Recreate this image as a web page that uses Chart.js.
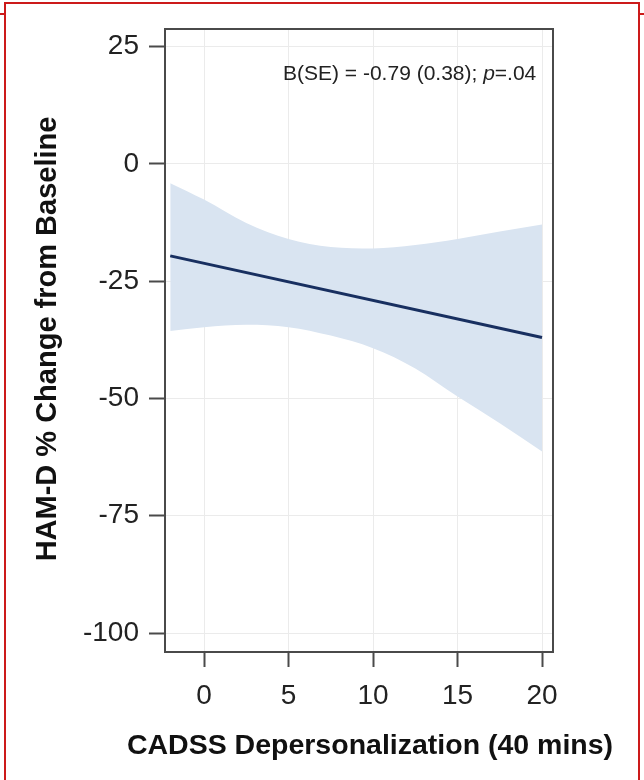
<!DOCTYPE html>
<html>
  <head>
    <title>HAM-D vs CADSS</title>
    <script src="https://cdn.jsdelivr.net/npm/chart.js"></script>
    <style>
      body { margin: 0; background: #ffffff; }
      #box { position: relative; width: 644px; height: 780px; }
    </style>
  </head>

  <body>
    <div id="box">
      <canvas id="grafico"></canvas>
    </div>

    <script>
      // eixos
      var xTicks = [0, 5, 10, 15, 20];
      var yTicks = [25, 0, -25, -50, -75, -100];

      // reta de regressao
      var fitX = [-2, 20];
      var fitY = [-19.6, -37.0];

      // intervalo de confianca
      var bandX = [-2, 0, 2.5, 5, 7.5, 10, 12.5, 15, 17.5, 20];
      var bandUpper = [-4.1, -7.6, -12.6, -16.0, -17.7, -18.0, -17.3, -16.0, -14.4, -12.9];
      var bandLower = [-35.6, -34.8, -34.3, -34.8, -36.6, -39.3, -43.6, -49.6, -55.3, -61.3];

      var xTitle = "CADSS Depersonalization (40 mins)";
      var yTitle = "HAM-D % Change from Baseline";

      var fonte = '"Liberation Sans", Arial, sans-serif';

      function pares(xs, ys) {
        return xs.map((x, i) => ({ x: x, y: ys[i] }));
      }

      var extras = {
        id: "extras",
        afterDraw(chart) {
          var ctx = chart.ctx;
          var a = chart.chartArea;
          ctx.save();

          // moldura do grafico
          ctx.strokeStyle = "#4a4a4a";
          ctx.lineWidth = 2;
          ctx.beginPath();
          ctx.moveTo(a.left, a.top);
          ctx.lineTo(a.right, a.top);
          ctx.lineTo(a.right, a.bottom);
          ctx.stroke();

          // anotacao
          ctx.fillStyle = "#222";
          ctx.textBaseline = "alphabetic";
          ctx.textAlign = "left";
          ctx.font = "21px " + fonte;
          var t1 = "B(SE) = -0.79 (0.38); ";
          var x0 = 283;
          ctx.fillText(t1, x0, 80);
          x0 += ctx.measureText(t1).width;
          ctx.font = "italic 21px " + fonte;
          ctx.fillText("p", x0, 80);
          x0 += ctx.measureText("p").width;
          ctx.font = "21px " + fonte;
          ctx.fillText("=.04", x0, 80);

          // titulos
          ctx.fillStyle = "#111";
          ctx.font = "bold 28.5px " + fonte;
          ctx.textAlign = "center";
          ctx.textBaseline = "middle";
          ctx.fillText(xTitle, 370, 746);
          ctx.font = "bold 29px " + fonte;
          ctx.translate(48, 339);
          ctx.rotate(-Math.PI / 2);
          ctx.fillText(yTitle, 0, 0);
          ctx.setTransform(1, 0, 0, 1, 0, 0);

          // borda vermelha
          ctx.strokeStyle = "#cc1a1a";
          ctx.lineWidth = 2;
          ctx.beginPath();
          ctx.moveTo(5, 790);
          ctx.lineTo(5, 3);
          ctx.lineTo(639, 3);
          ctx.lineTo(639, 790);
          ctx.moveTo(0, 14);
          ctx.lineTo(5, 14);
          ctx.moveTo(639, 14);
          ctx.lineTo(644, 14);
          ctx.stroke();

          ctx.restore();
        },
      };

      var grafico = new Chart(document.getElementById("grafico").getContext("2d"), {
        type: "line",
        data: {
          datasets: [
            {
              data: pares(fitX, fitY),
              borderColor: "#182f60",
              borderWidth: 3,
              pointRadius: 0,
              fill: false,
            },
            {
              data: pares(bandX, bandLower),
              borderWidth: 0,
              borderColor: "rgba(0,0,0,0)",
              pointRadius: 0,
              cubicInterpolationMode: "monotone",
              fill: false,
            },
            {
              data: pares(bandX, bandUpper),
              borderWidth: 0,
              borderColor: "rgba(0,0,0,0)",
              backgroundColor: "#d9e4f1",
              pointRadius: 0,
              cubicInterpolationMode: "monotone",
              fill: "-1",
            },
          ],
        },
        options: {
          responsive: true,
          maintainAspectRatio: false,
          animation: false,
          layout: { padding: { left: 0, right: 91, top: 29, bottom: 0 } },
          plugins: {
            legend: { display: false },
            tooltip: { enabled: false },
          },
          scales: {
            x: {
              type: "linear",
              min: -2.31,
              max: 20.65,
              afterBuildTicks: (s) => {
                s.ticks = xTicks.map((v) => ({ value: v }));
              },
              afterFit: (s) => {
                s.height = 128;
              },
              grid: {
                color: "#ebebeb",
                lineWidth: 1,
                tickColor: "#4a4a4a",
                tickWidth: 2,
                tickLength: 15,
              },
              border: { color: "#4a4a4a", width: 2 },
              ticks: {
                color: "#222",
                font: { family: fonte, size: 28 },
                padding: 12,
                maxRotation: 0,
              },
            },
            y: {
              min: -104.05,
              max: 28.77,
              afterBuildTicks: (s) => {
                s.ticks = yTicks.map((v) => ({ value: v }));
              },
              afterFit: (s) => {
                s.width = 165;
              },
              grid: {
                color: "#ebebeb",
                lineWidth: 1,
                tickColor: "#4a4a4a",
                tickWidth: 2,
                tickLength: 16,
              },
              border: { color: "#4a4a4a", width: 2 },
              ticks: {
                color: "#222",
                font: { family: fonte, size: 28 },
                padding: 10,
              },
            },
          },
        },
        plugins: [extras],
      });
    </script>
  </body>
</html>
